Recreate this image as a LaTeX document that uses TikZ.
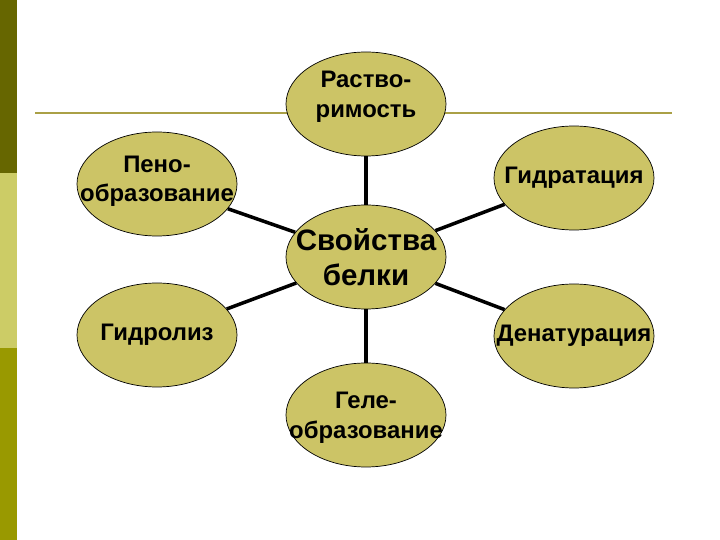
\documentclass[tikz,border=0pt]{standalone}
\usepackage{fontspec}
\setmainfont{Liberation Sans}
\usetikzlibrary{shapes.geometric}
\definecolor{barDark}{RGB}{102,102,0}
\definecolor{barLight}{RGB}{204,204,102}
\definecolor{barMid}{RGB}{153,153,0}
\definecolor{ruleOlive}{RGB}{170,160,70}
\definecolor{propFill}{RGB}{204,196,102}
\tikzset{
  propEllipse/.style={ellipse, draw=black, line width=0.5pt, fill=propFill,
    minimum width=4cm, minimum height=2.6cm, inner sep=0pt},
  propText/.style={align=center, inner sep=0pt,
    font=\bfseries\fontsize{17}{21}\selectfont},
  mainText/.style={align=center, inner sep=0pt,
    font=\bfseries\fontsize{21}{25}\selectfont},
  linkLine/.style={line width=2.5pt, black}
}
\begin{document}
\begin{tikzpicture}
  \useasboundingbox (0,0) rectangle (18,13.5);

  %% --- Полосы слева ---
  \fill[barDark]  (0,9.175) rectangle (0.425,13.5);
  \fill[barLight] (0,4.8)   rectangle (0.425,9.175);
  \fill[barMid]   (0,0)     rectangle (0.425,4.8);

  % Горизонтальная линия
  \coordinate (ruleL) at (0.875,10.675);
  \coordinate (ruleR) at (16.8,10.675);
  \draw[ruleOlive, line width=1.4pt] (ruleL) -- (ruleR);

  %% --- Эллипсы ---
  \node[propEllipse] (center) at (9.15,7.075) {};
  \node[propEllipse] (solub)  at (9.15,10.9)  {};
  \node[propEllipse] (foam)   at (3.925,8.9)  {};
  \node[propEllipse] (hydrat) at (14.35,9.05) {};
  \node[propEllipse] (hydrol) at (3.925,5.125) {};
  \node[propEllipse] (denat)  at (14.35,5.1)  {};
  \node[propEllipse] (gel)    at (9.15,3.125) {};

  % Связи
  \foreach \n in {solub, foam, hydrat, hydrol, denat, gel}
    \draw[linkLine] (center) -- (\n);

  %% --- Тексты ---
  \node[mainText] (centerText) at (center) {Свойства\\белки};
  \node[propText, yshift=5pt] (solubText) at (solub) {Раство-\\римость};
  \node[propText, yshift=2pt] (foamText) at (foam) {Пено-\\образование};
  \node[propText] (hydratText) at (hydrat) {Гидратация};
  \node[propText] (hydrolText) at (hydrol) {Гидролиз};
  \node[propText] (denatText) at (denat) {Денатурация};
  \node[propText, yshift=-2pt] (gelText) at (gel) {Геле-\\образование};
\end{tikzpicture}
\end{document}
